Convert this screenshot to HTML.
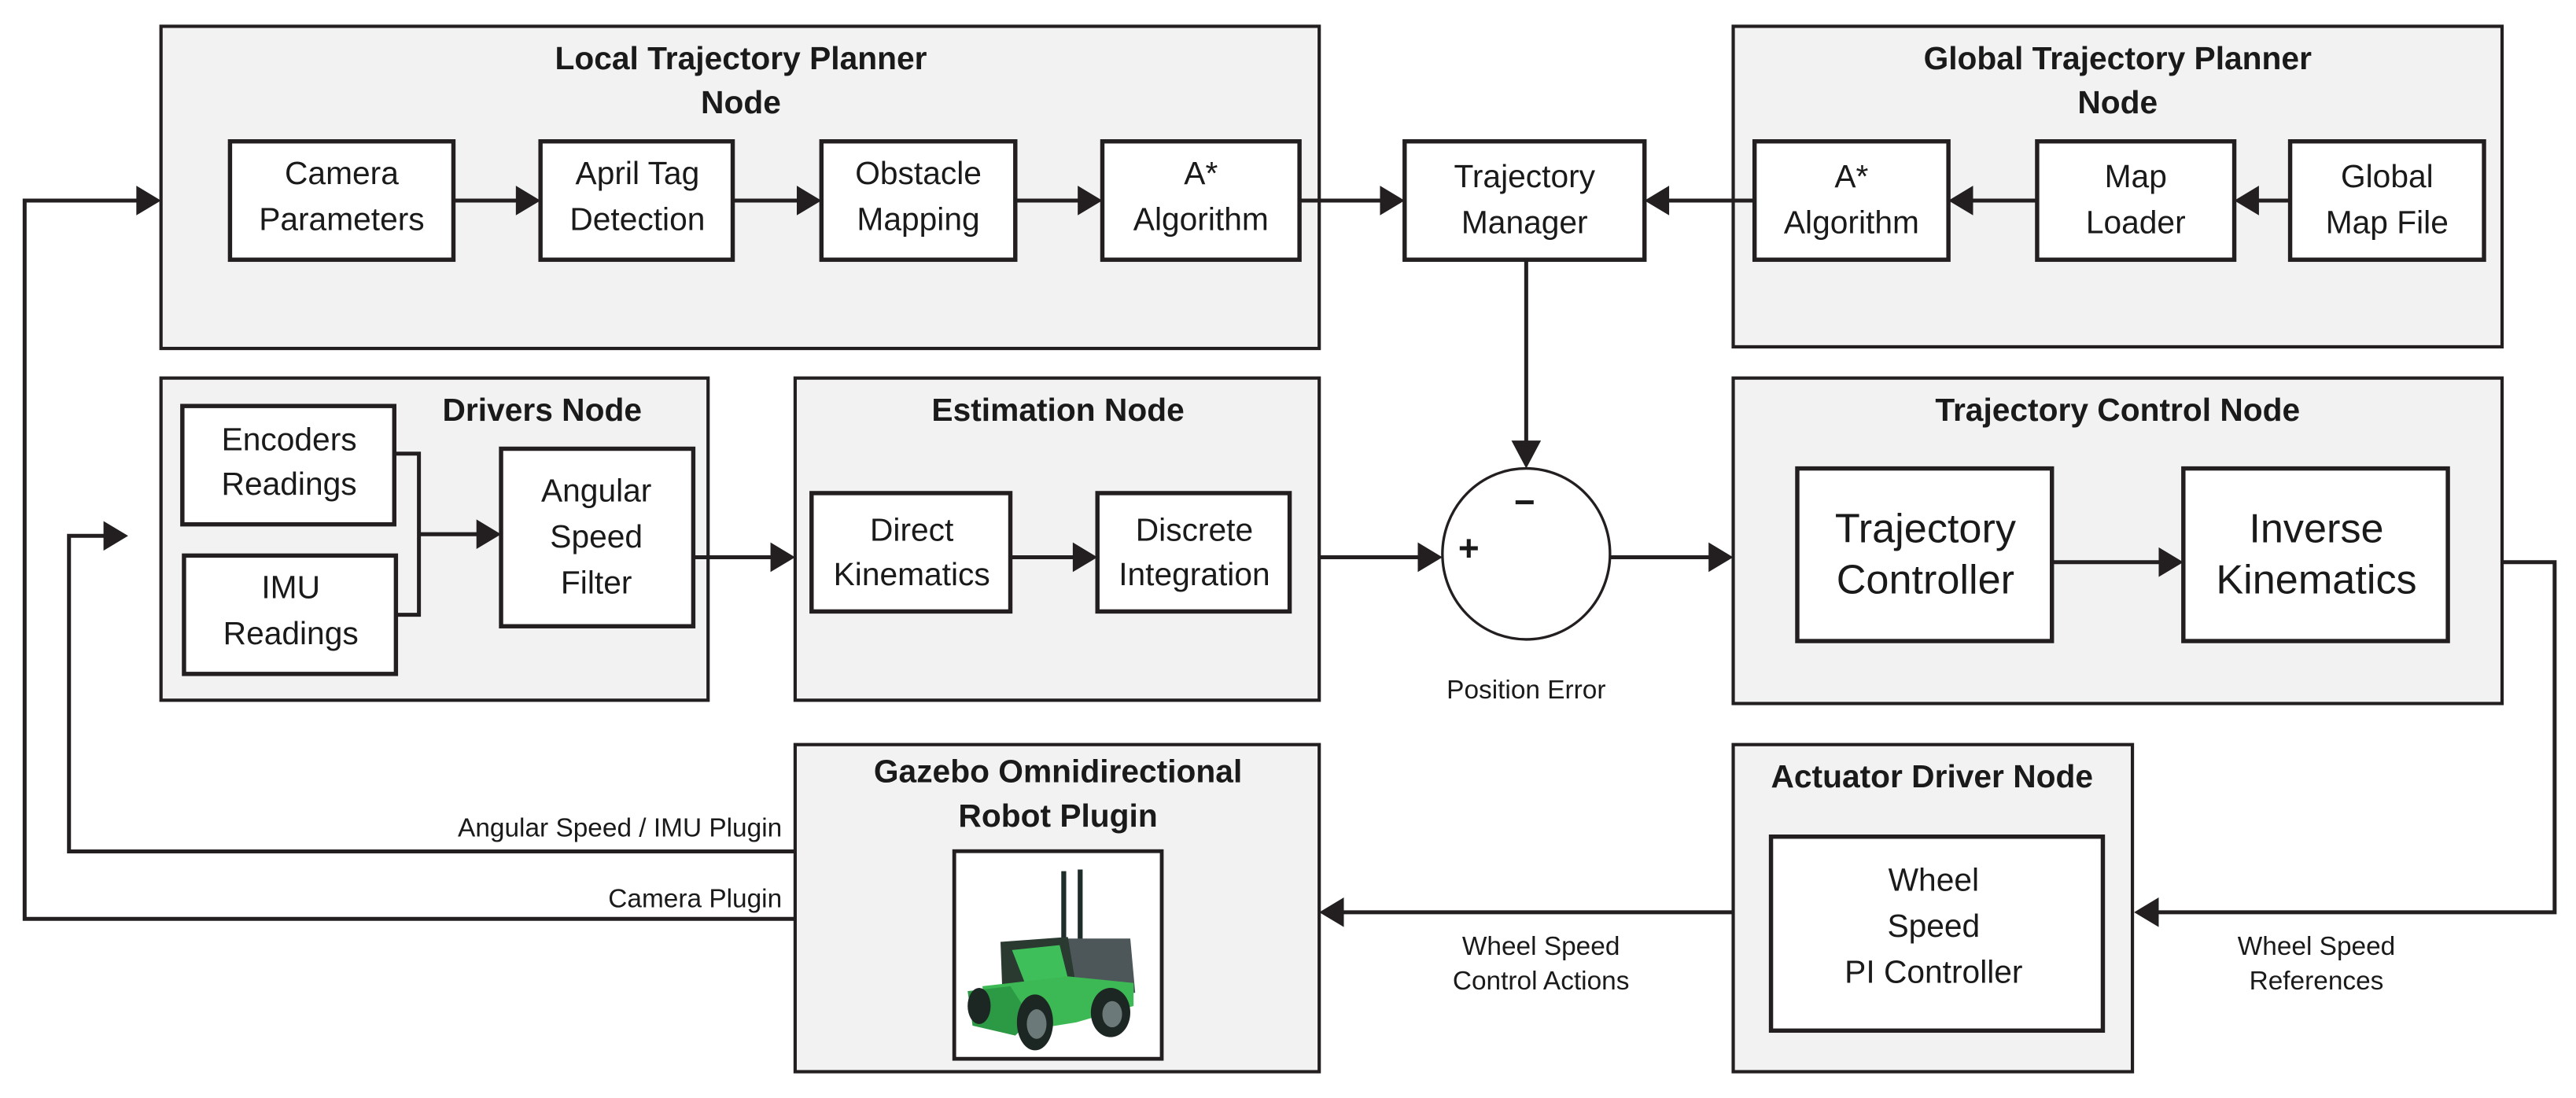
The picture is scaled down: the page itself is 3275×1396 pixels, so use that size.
<!DOCTYPE html>
<html><head><meta charset="utf-8"><style>
html,body{margin:0;padding:0;background:#fff;}
svg{display:block;}
text{font-family:"Liberation Sans",sans-serif;fill:#1a1a1a;}
.t{font-size:19.5px;}
.b{font-size:19.5px;font-weight:bold;}
.s{font-size:16px;}
.g{fill:#f2f2f2;stroke:#231f20;stroke-width:2;}
.w{fill:#fff;stroke:#231f20;stroke-width:2.6;}
.l{stroke:#231f20;stroke-width:2.4;fill:none;}
.a{fill:#231f20;}
</style></head><body>
<svg width="3275" height="1396" viewBox="0 0 1568 668" preserveAspectRatio="none" xmlns="http://www.w3.org/2000/svg">
<rect width="1568" height="668" fill="#fff"/>
<!-- containers -->
<rect class="g" x="98" y="16" width="705" height="196"/>
<rect class="g" x="1055" y="16" width="468" height="195"/>
<rect class="g" x="98" y="230" width="333" height="196"/>
<rect class="g" x="484" y="230" width="319" height="196"/>
<rect class="g" x="1055" y="230" width="468" height="198"/>
<rect class="g" x="484" y="453" width="319" height="199"/>
<rect class="g" x="1055" y="453" width="243" height="199"/>
<!-- titles -->
<g text-anchor="middle" class="b">
<text x="451" y="42" class="b">Local Trajectory Planner</text>
<text x="451" y="69" class="b">Node</text>
<text x="1289" y="42" class="b">Global Trajectory Planner</text>
<text x="1289" y="69" class="b">Node</text>
<text x="330" y="256" class="b">Drivers Node</text>
<text x="644" y="256" class="b">Estimation Node</text>
<text x="1289" y="256" class="b">Trajectory Control Node</text>
<text x="644" y="476" class="b">Gazebo Omnidirectional</text>
<text x="644" y="503" class="b">Robot Plugin</text>
<text x="1176" y="479" class="b">Actuator Driver Node</text>
</g>
<!-- inner boxes -->
<rect class="w" x="140" y="86" width="136" height="72"/>
<rect class="w" x="329" y="86" width="117" height="72"/>
<rect class="w" x="500" y="86" width="118" height="72"/>
<rect class="w" x="671" y="86" width="120" height="72"/>
<rect class="w" x="855" y="86" width="146" height="72"/>
<rect class="w" x="1068" y="86" width="118" height="72"/>
<rect class="w" x="1240" y="86" width="120" height="72"/>
<rect class="w" x="1394" y="86" width="118" height="72"/>
<rect class="w" x="111" y="247" width="129" height="72"/>
<rect class="w" x="112" y="338" width="129" height="72"/>
<rect class="w" x="305" y="273" width="117" height="108"/>
<rect class="w" x="494" y="300" width="121" height="72"/>
<rect class="w" x="668" y="300" width="117" height="72"/>
<rect class="w" x="1094" y="285" width="155" height="105"/>
<rect class="w" x="1329" y="285" width="161" height="105"/>
<rect class="w" x="1078" y="509" width="202" height="118"/>
<rect class="w" x="581" y="518" width="126" height="126" stroke-width="2"/>
<!-- inner text -->
<g text-anchor="middle" class="t">
<text x="208" y="112" class="t">Camera</text><text x="208" y="140" class="t">Parameters</text>
<text x="388" y="112" class="t">April Tag</text><text x="388" y="140" class="t">Detection</text>
<text x="559" y="112" class="t">Obstacle</text><text x="559" y="140" class="t">Mapping</text>
<text x="731" y="112" class="t">A*</text><text x="731" y="140" class="t">Algorithm</text>
<text x="928" y="114" class="t">Trajectory</text><text x="928" y="142" class="t">Manager</text>
<text x="1127" y="114" class="t">A*</text><text x="1127" y="142" class="t">Algorithm</text>
<text x="1300" y="114" class="t">Map</text><text x="1300" y="142" class="t">Loader</text>
<text x="1453" y="114" class="t">Global</text><text x="1453" y="142" class="t">Map File</text>
<text x="176" y="274" class="t">Encoders</text><text x="176" y="301" class="t">Readings</text>
<text x="177" y="364" class="t">IMU</text><text x="177" y="392" class="t">Readings</text>
<text x="363" y="305" class="t">Angular</text><text x="363" y="333" class="t">Speed</text><text x="363" y="361" class="t">Filter</text>
<text x="555" y="329" class="t">Direct</text><text x="555" y="356" class="t">Kinematics</text>
<text x="727" y="329" class="t">Discrete</text><text x="727" y="356" class="t">Integration</text>
<text x="1172" y="330" style="font-size:25px">Trajectory</text><text x="1172" y="361" style="font-size:25px">Controller</text>
<text x="1410" y="330" style="font-size:25px">Inverse</text><text x="1410" y="361" style="font-size:25px">Kinematics</text>
<text x="1177" y="542" class="t">Wheel</text><text x="1177" y="570" class="t">Speed</text><text x="1177" y="598" class="t">PI Controller</text>
<text x="929" y="425" class="s">Position Error</text>
<text x="938" y="581" class="s">Wheel Speed</text><text x="938" y="602" class="s">Control Actions</text>
<text x="1410" y="581" class="s">Wheel Speed</text><text x="1410" y="602" class="s">References</text>
</g>
<g text-anchor="end" class="s">
<text x="476" y="509" class="s">Angular Speed / IMU Plugin</text>
<text x="476" y="552" class="s">Camera Plugin</text>
</g>
<!-- summing junction -->
<ellipse cx="929" cy="337" rx="51" ry="52" fill="#fff" stroke="#231f20" stroke-width="1.6"/>
<text x="894" y="341" style="font-size:22px;font-weight:bold" text-anchor="middle">+</text>
<text x="928" y="313" style="font-size:22px;font-weight:bold" text-anchor="middle">−</text>
<!-- lines -->
<g class="l">
<line x1="276" y1="122" x2="316" y2="122"/>
<line x1="446" y1="122" x2="487" y2="122"/>
<line x1="618" y1="122" x2="658" y2="122"/>
<line x1="791" y1="122" x2="842" y2="122"/>
<line x1="1068" y1="122" x2="1014" y2="122"/>
<line x1="1240" y1="122" x2="1199" y2="122"/>
<line x1="1394" y1="122" x2="1373" y2="122"/>
<line x1="929" y1="158" x2="929" y2="272"/>
<polyline points="240,276 255,276 255,374 241,374"/>
<line x1="255" y1="325" x2="292" y2="325"/>
<line x1="422" y1="339" x2="471" y2="339"/>
<line x1="615" y1="339" x2="655" y2="339"/>
<line x1="803" y1="339" x2="865" y2="339"/>
<line x1="980" y1="339" x2="1042" y2="339"/>
<line x1="1249" y1="342" x2="1316" y2="342"/>
<polyline points="1523,342 1555,342 1555,555 1313,555"/>
<line x1="1055" y1="555" x2="816" y2="555"/>
<polyline points="484,559 15,559 15,122 85,122"/>
<polyline points="484,518 42,518 42,326 65,326"/>
</g>
<!-- arrowheads -->
<g class="a">
<polygon points="329,122 314,113 314,131"/>
<polygon points="500,122 485,113 485,131"/>
<polygon points="671,122 656,113 656,131"/>
<polygon points="855,122 840,113 840,131"/>
<polygon points="1001,122 1016,113 1016,131"/>
<polygon points="1186,122 1201,113 1201,131"/>
<polygon points="1360,122 1375,113 1375,131"/>
<polygon points="929,285 920,268 938,268"/>
<polygon points="305,325 290,316 290,334"/>
<polygon points="484,339 469,330 469,348"/>
<polygon points="668,339 653,330 653,348"/>
<polygon points="878,339 863,330 863,348"/>
<polygon points="1055,339 1040,330 1040,348"/>
<polygon points="1329,342 1314,333 1314,351"/>
<polygon points="1299,555 1314,546 1314,564"/>
<polygon points="803,555 818,546 818,564"/>
<polygon points="98,122 83,113 83,131"/>
<polygon points="78,326 63,317 63,335"/>
</g>
<!-- robot -->
<g>
<rect x="582" y="519" width="124" height="124" fill="#fff"/>
<rect x="646" y="530" width="3" height="42" fill="#1f2d2a"/>
<rect x="656" y="529" width="3" height="44" fill="#1f2d2a"/>
<polygon points="648,571 688,571 691,604 650,606" fill="#4d5658"/>
<polygon points="609,573 650,570 655,600 628,612 610,600" fill="#2a3a30"/>
<polygon points="616,578 645,575 650,595 625,601" fill="#3fbf5a"/>
<polygon points="598,600 650,594 690,598 690,612 655,622 630,626 600,618" fill="#3cb954"/>
<polygon points="589,603 615,600 628,620 618,630 592,624" fill="#2c9a45"/>
<ellipse cx="596" cy="612" rx="7" ry="11" fill="#1c2622"/>
<ellipse cx="630" cy="622" rx="11" ry="17" fill="#1c2622"/>
<ellipse cx="631" cy="623" rx="6" ry="9" fill="#6b7a78"/>
<ellipse cx="676" cy="616" rx="12" ry="15" fill="#1c2622"/>
<ellipse cx="677" cy="617" rx="6" ry="8" fill="#6b7a78"/>
</g>
</svg>
</body></html>
